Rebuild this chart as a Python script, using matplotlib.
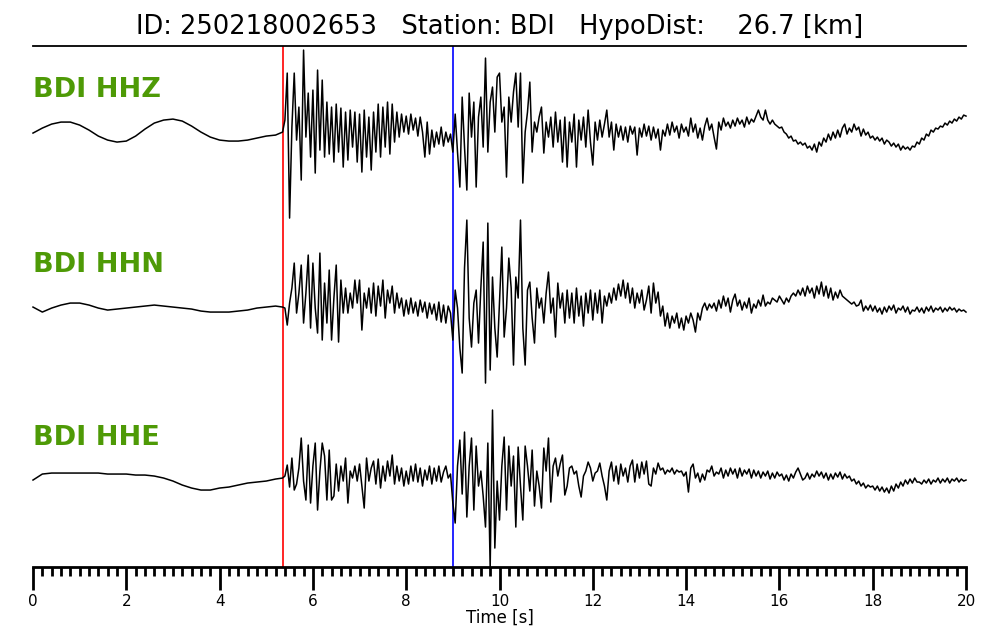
import numpy as np
import matplotlib
matplotlib.use("Agg")
import matplotlib.pyplot as plt

# ---------------- data (pixel-like amplitude units, up = positive) ----------------
title_text = "ID: 250218002653   Station: BDI   HypoDist:    26.7 [km]"
channels = ["BDI HHZ", "BDI HHN", "BDI HHE"]
p_pick = 5.36
s_pick = 9.0

# pre-event samples, every 0.2 s from 0.0 to 5.2 s
hhz_pre = [-1, 4, 8, 10, 10, 7, 2, -4, -8, -10, -9, -4, 3, 9, 12, 13, 11, 6, 0, -5,
           -8, -9, -9, -8, -6, -4, -3]
hhn_pre = [1, -4, 0, 3, 5, 5, 3, 0, -2, -1, 0, 1, 2, 3, 2, 1, 0, -1, -3, -4,
           -4, -4, -3, -2, 0, 1, 2]
hhe_pre = [-4, 2, 3, 3, 3, 3, 3, 3, 2, 2, 2, 1, 1, 0, -2, -5, -9, -12, -14, -14,
           -12, -11, -9, -7, -6, -5, -3]

# event samples, every 0.05 s from 5.35 s to 20.0 s
hhz_evt = [
    0, 12, 59, -86, 5, 59, -8, 25, -48, 82, -5, 39, -25,
    42, -41, 62, -18, 52, -25, 30, -22, 25, -30, 28, -20, 24, -35, 20, -28, 22, -15, 20, -30,
    18, -40, 22, -25, 15, -38, 20, -20, 28, -25, 25, -15, 30, -22, 28, -10, 20, -5, 18, 0,
    16, -2, 18, 2, 14, -4, 15, 0, -25, 10, -22, 2, -15, 0, -12, 5, -14, 0, -10, -2,
    -20, 18, -20, -55, 35, -15, -58, 39, -5, 30, -55, 15, 35, -15, 74, -20, 30, 45, 0, 55,
    59, 10, 25, -45, 35, 10, 40, 59, 5, 59, -51, 0, 20, 50, -20, 10, 0, 15, 25, -21,
    10, -5, 15, -15, 20, -10, 12, -30, 15, -35, 10, -10, 18, -35, 12, -8, 15, -15, 22, -10,
    -33, 10, -8, 12, -5, 8, 22, -5, 10, -18, 8, -5, 6, -8, 5, -10, 6, -2, 5, -23,
    4, -5, 8, -4, 6, -8, 5, -6, 3, -18, 2, -4, 8, -3, 10, 0, 6, -6, 8, 0,
    5, -4, 14, 0, 8, -6, 4, -8, 6, 14, 2, 8, -5, -17, 10, 2, 14, 6, 10, 4,
    12, 6, 14, 8, 12, 5, 15, 8, 13, 10, 16, 22, 15, 12, 22, 12, 8, 12, 8, 6,
    4, 5, 0, -2, -6, -4, -9, -8, -12, -10, -13, -11, -16, -14, -18, -12, -20, -10, -14, -6,
    -10, -2, -8, 0, -6, 2, -5, 4, 8, -2, 4, 0, 8, 2, 5, -4, 3, -3, 0, -6,
    -4, -8, -5, -9, -6, -12, -8, -10, -14, -11, -15, -12, -18, -14, -17, -15, -18, -14, -15, -10,
    -12, -6, -8, -2, -4, 2, 0, 4, 3, 6, 5, 9, 7, 11, 9, 13, 11, 15, 13, 17, 16]

hhn_evt = [
    1, 0, -17, 5, 20, 45, -5, 15, 43, -15, 15, 53, -20,
    45, 0, -25, 55, -32, 25, -15, 38, -32, 10, 43, -34, 28, -5, 20, -5, 15, 0, 28, 5,
    28, -22, 15, 0, 20, -5, 25, -8, 22, 2, 28, -10, 18, 5, 22, -5, 15, 0, 10, -8,
    8, -6, 10, -5, 6, -8, 8, -4, 6, -10, 5, -6, 4, -12, 6, -14, 3, -15, 2, -5,
    -32, 18, 0, -40, -65, 40, 88, -10, -39, 5, 18, -35, 20, 66, -75, 85, -62, 31, -20, -49,
    5, 61, -29, 0, 50, 20, -57, 31, 10, 88, -20, -57, 18, 26, -10, -35, 20, 0, 10, -15,
    15, 36, -5, 10, -29, 25, 0, 15, -15, 18, -10, 15, -15, 20, -8, 12, -18, 15, -5, 18,
    -12, 15, -5, 18, -15, 12, 2, 15, 5, 20, 8, 24, 12, 28, 10, 25, 5, 20, 0, 15,
    5, 18, -2, 8, 22, -5, 25, 5, 16, -8, 2, -18, -5, -20, -8, -15, -5, -20, -10, -22,
    -8, -15, -5, -12, -24, -5, -12, 0, 5, -2, 4, 0, 5, -3, 8, 0, 12, 2, 10, -4,
    8, 14, 2, 8, -2, 6, 0, 10, -5, 4, 0, 8, 2, 13, 2, 6, 4, 10, 8, 6,
    12, 8, 4, 10, 6, 12, 15, 12, 18, 13, 20, 12, 22, 15, 20, 10, 22, 14, 26, 12,
    22, 10, 20, 8, 16, 10, 18, 12, 10, 8, 6, 4, 6, 2, 3, 8, -3, 2, -2, 3,
    -3, 2, -4, 0, -6, 1, -4, 2, -2, 3, -5, 0, -2, 2, -4, 1, -6, -2, -3, 1,
    -4, 0, -5, 1, -3, 2, -4, 0, -2, 1, -4, 0, -3, 1, -2, 0, -4, -1, -3, -2, -4]

hhe_evt = [
    -2, 0, 11, -11, 18, -14, -8, 8, 38, -5, -24, 31, -27,
    10, 33, -34, 5, 33, 20, -24, 26, -24, -20, 12, -15, 10, -5, 18, -27, 5, -2, 10, -5,
    12, -10, -32, 18, -5, 8, 15, -8, 17, -12, 10, -5, 15, 0, 21, -8, 10, -5, 8, -10,
    5, -8, 10, -5, 12, -6, 8, -10, 6, -4, 10, -8, 8, -5, 10, -6, 4, 10, -2, 2,
    -27, -47, 10, 36, -18, 44, -41, 10, 38, -34, 30, -10, 5, -20, -51, 33, -92, 66, -72, -5,
    -44, 10, 39, -34, 30, -10, 20, -51, 29, -10, -44, 30, 10, -15, 26, -30, 5, -10, -32, 28,
    5, 38, -26, 10, 18, 0, 12, 21, -19, -10, 8, 10, 2, 5, -10, -21, 0, 5, 14, 8,
    -5, 3, 5, 13, 0, -10, -24, 5, 14, -5, 10, -8, 12, 0, 8, -6, 10, 16, -6, 12,
    -2, 14, 2, 15, -8, -10, 8, 2, 13, 6, 8, 2, 6, 4, 8, 2, 6, 4, 5, 0,
    4, -16, 8, 12, -2, 3, -6, 2, -4, 6, 4, 10, 0, 4, 2, 8, -2, 6, 0, 8,
    2, 7, -2, 8, 0, 6, 2, 7, -2, 6, 0, 5, -2, 4, 0, 5, -3, 3, -2, 4,
    0, 2, -4, 1, -5, 2, -2, 4, 8, 2, -4, -2, 3, -3, 2, -1, 5, 0, 4, -2,
    3, -4, 2, -3, 3, -1, 4, -3, 2, -2, 0, -5, -3, -8, -5, -10, -7, -12, -9, -11,
    -10, -14, -10, -15, -11, -16, -12, -17, -10, -15, -8, -12, -6, -10, -4, -8, -3, -7, -2, -6,
    -6, -8, -4, -7, -3, -8, -4, -6, -2, -7, -3, -6, -2, -7, -3, -5, -2, -6, -3, -5, -4]

# ---------------- figure ----------------
t_pre = np.arange(len(hhz_pre)) * 0.2
t_evt = 5.35 + np.arange(len(hhz_evt)) * 0.05

fig = plt.figure(figsize=(10, 6.4), dpi=100)
ax = fig.add_axes([0.033, 0.114, 0.933, 0.814])

offsets = [435, 259, 91]
label_y = [477, 302, 129]
green = "#4e9a06"

for pre, evt, off, name, ly in zip([hhz_pre, hhn_pre, hhe_pre],
                                   [hhz_evt, hhn_evt, hhe_evt],
                                   offsets, channels, label_y):
    t = np.concatenate([t_pre, t_evt])
    y = np.concatenate([np.array(pre, float), np.array(evt, float)]) + off
    ax.plot(t, y, color="black", lw=1.1, zorder=3, clip_on=False)
    ax.text(0.0, ly, name, color=green, fontsize=19.5, fontweight="bold",
            ha="left", va="center")

ax.axvline(p_pick, color="red", lw=1.2, zorder=2)
ax.axvline(s_pick, color="blue", lw=1.2, zorder=2)

ax.set_xlim(0, 20)
ax.set_ylim(0, 521)
ax.spines["left"].set_visible(False)
ax.spines["right"].set_visible(False)
ax.spines["top"].set_linewidth(1.3)
ax.spines["bottom"].set_linewidth(2.0)
ax.set_yticks([])
ax.set_xticks(np.arange(0, 21, 2))
ax.set_xticks(np.arange(0, 20.01, 0.2), minor=True)
ax.tick_params(axis="x", which="major", direction="out", length=16.5, width=2.0,
               labelsize=11, pad=3)
ax.tick_params(axis="x", which="minor", direction="out", length=6.5, width=2.0)
ax.set_xlabel("Time [s]", fontsize=12, labelpad=0)
ax.set_title(title_text, fontsize=18.5, pad=9)

fig.savefig("out.png", dpi=100)
